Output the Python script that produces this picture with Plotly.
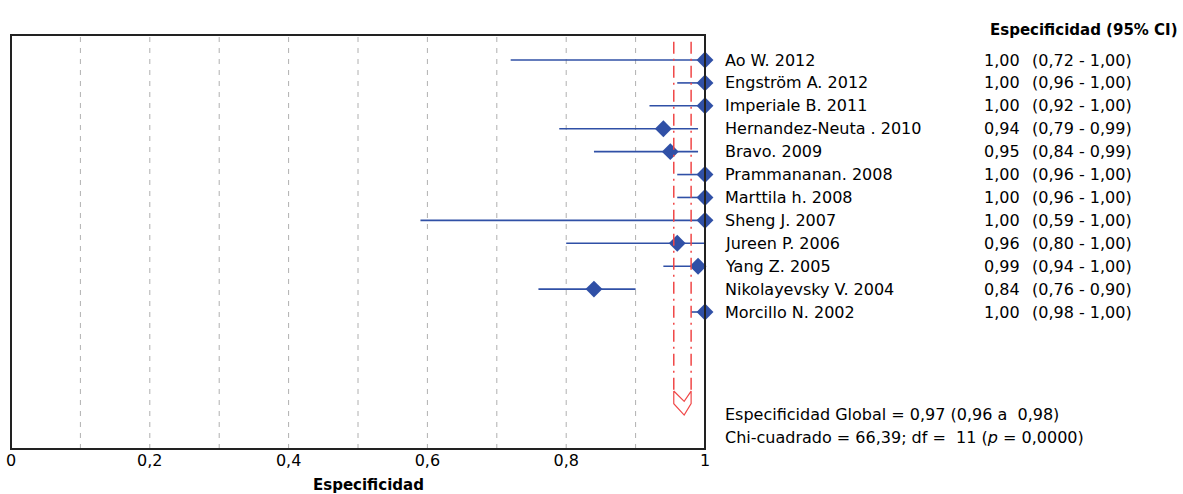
import plotly.graph_objects as go

studies = ["Ao W. 2012", "Engström A. 2012", "Imperiale B. 2011", "Hernandez-Neuta . 2010",
           "Bravo. 2009", "Prammananan. 2008", "Marttila h. 2008", "Sheng J. 2007",
           "Jureen P. 2006", "Yang Z. 2005", "Nikolayevsky V. 2004", "Morcillo N. 2002"]
spec = [1.00, 1.00, 1.00, 0.94, 0.95, 1.00, 1.00, 1.00, 0.96, 0.99, 0.84, 1.00]
ci_lo = [0.72, 0.96, 0.92, 0.79, 0.84, 0.96, 0.96, 0.59, 0.80, 0.94, 0.76, 0.98]
ci_hi = [1.00, 1.00, 1.00, 0.99, 0.99, 1.00, 1.00, 1.00, 1.00, 1.00, 0.90, 1.00]
pooled = 0.97
pooled_lo = 0.955
pooled_hi = 0.98
tick_vals = [0, 0.2, 0.4, 0.6, 0.8, 1]
tick_text = ["0", "0,2", "0,4", "0,6", "0,8", "1"]

FONT = "DejaVu Sans, Verdana, sans-serif"
BLUE = "#3050a6"
RED = "#f04848"

W, H = 1183, 494
L, R, T, B = 11, 705, 35, 449
PW = R - L

def px(X):
    return (X - L) / PW

def py(Y):
    return 1 - (Y - T) / (B - T)

fmt = lambda v: f"{v:.2f}".replace(".", ",")

rows = list(range(len(studies)))
diamond_y = 15.0

fig = go.Figure()

# grid lines
for g in [0.1, 0.2, 0.3, 0.4, 0.5, 0.6, 0.7, 0.8, 0.9]:
    fig.add_shape(type="line", xref="x", yref="paper", x0=g, x1=g, y0=0, y1=1,
                  line=dict(color="#b0b0b0", width=1, dash="5px,6px"), layer="below")

# pooled CI red dash-dot lines
for v in [pooled_lo, pooled_hi]:
    fig.add_shape(type="line", xref="x", yref="y", x0=v, x1=v, y0=-0.8, y1=diamond_y - 0.55,
                  line=dict(color=RED, width=1.5, dash="12px,5px,2px,5px"))

# pooled diamond
fig.add_trace(go.Scatter(
    x=[pooled_lo, pooled_lo, pooled, pooled_hi, pooled_hi, pooled, pooled_lo],
    y=[diamond_y - 0.55, diamond_y, diamond_y + 0.5, diamond_y, diamond_y - 0.55, diamond_y - 0.1, diamond_y - 0.55],
    mode="lines", line=dict(color=RED, width=1.2), showlegend=False, hoverinfo="skip"))

# CI lines
for i in rows:
    fig.add_trace(go.Scatter(x=[ci_lo[i], ci_hi[i]], y=[i, i], mode="lines",
                             line=dict(color=BLUE, width=1.6), showlegend=False, hoverinfo="skip"))

# points
fig.add_trace(go.Scatter(x=spec, y=rows, mode="markers",
                         marker=dict(symbol="diamond", size=13, color=BLUE),
                         showlegend=False, cliponaxis=False))

# frame
fig.add_shape(type="rect", xref="paper", yref="paper", x0=0, x1=1, y0=0, y1=1,
              line=dict(color="#222222", width=2))

ann = []
tf = dict(size=16, family=FONT, color="black")
for i in rows:
    ann.append(dict(x=px(723), y=i, xref="paper", yref="y", text=studies[i], showarrow=False,
                    xanchor="left", yanchor="middle", font=tf))
    ann.append(dict(x=px(1022), y=i, xref="paper", yref="y", text=fmt(spec[i]), showarrow=False,
                    xanchor="right", yanchor="middle", font=tf))
    ann.append(dict(x=px(1030), y=i, xref="paper", yref="y",
                    text=f"({fmt(ci_lo[i])} - {fmt(ci_hi[i])})", showarrow=False,
                    xanchor="left", yanchor="middle", font=tf))

ann.append(dict(x=px(1180), y=py(30), xref="paper", yref="paper",
                text="<b>Especificidad (95% CI)</b>", showarrow=False,
                xanchor="right", yanchor="middle", font=dict(size=15, family=FONT, color="black")))
ann.append(dict(x=px(723), y=py(414), xref="paper", yref="paper",
                text=f"Especificidad Global = {fmt(pooled)} ({fmt(0.96)} a  {fmt(pooled_hi)})",
                showarrow=False, xanchor="left", yanchor="middle", font=tf))
ann.append(dict(x=px(723), y=py(437), xref="paper", yref="paper",
                text="Chi-cuadrado = 66,39; df =  11 (<i>p</i> = 0,0000)",
                showarrow=False, xanchor="left", yanchor="middle", font=tf))
ann.append(dict(x=px(369), y=py(485), xref="paper", yref="paper",
                text="<b>Especificidad</b>", showarrow=False,
                xanchor="center", yanchor="middle", font=dict(size=15, family=FONT, color="black")))

fig.update_layout(
    width=W, height=H,
    margin=dict(l=L, r=W - R, t=T, b=H - B, pad=0, autoexpand=False),
    plot_bgcolor="white", paper_bgcolor="white",
    annotations=ann,
    xaxis=dict(range=[0, 1], tickvals=tick_vals, ticktext=tick_text, showgrid=False,
               zeroline=False, showline=False, ticks="", automargin=False,
               tickfont=dict(size=16, family=FONT, color="black"),
               fixedrange=True),
    yaxis=dict(range=[(B - 60) / 22.91, -(60 - T) / 22.91], showgrid=False, zeroline=False,
               showticklabels=False, showline=False, ticks="", fixedrange=True, automargin=False),
)

fig.write_html("out.html", config={"displayModeBar": False},
               post_script="document.body.style.margin='0';document.body.style.overflow='hidden';")
